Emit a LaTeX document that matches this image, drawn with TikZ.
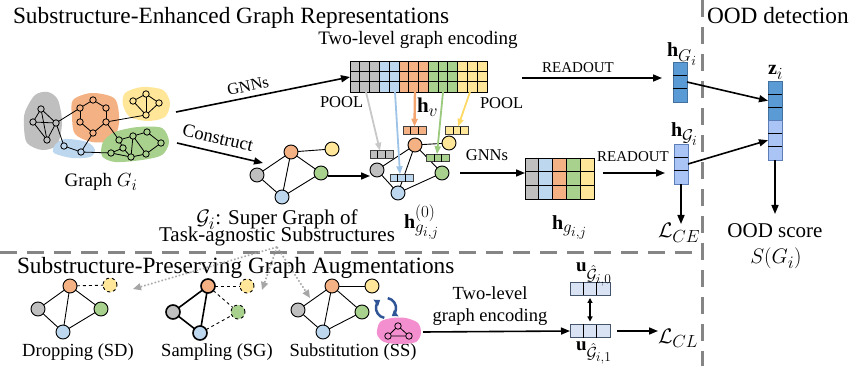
\RequirePackage{fix-cm}
\documentclass[tikz,border=0pt]{standalone}
\usepackage{amsmath}
\usepackage{fontspec}
\setmainfont{Liberation Serif}
\usetikzlibrary{arrows.meta,calc}
\DeclareMathSizes{19}{19}{16}{13.5}
\DeclareMathSizes{21}{21}{17.5}{14.5}
\DeclareMathSizes{20}{20}{17}{14}
\DeclareMathSizes{18.5}{18.5}{15.5}{13}
\DeclareMathSizes{23.3}{23.3}{18}{15}
\definecolor{cgray}{HTML}{BFBFBF}
\definecolor{cblue}{HTML}{BDD7EE}
\definecolor{corange}{HTML}{F4B183}
\definecolor{cgreen}{HTML}{A9D18E}
\definecolor{cyellow}{HTML}{FFE699}
\definecolor{dblue}{HTML}{5B9BD5}
\definecolor{dblueb}{HTML}{41719C}
\definecolor{lblue}{HTML}{A9C4F5}
\definecolor{lblueb}{HTML}{5B7DB8}
\definecolor{ublue}{HTML}{DAE3F3}
\definecolor{ubord}{HTML}{44546A}
\definecolor{sepgray}{HTML}{858585}
\definecolor{pinkc}{HTML}{F48FCF}
\definecolor{refblue}{HTML}{2F5597}
\definecolor{dotgray}{HTML}{A6A6A6}
\definecolor{agray}{HTML}{C8C8C8}
\definecolor{ablue}{HTML}{9DC3E6}
\definecolor{aorange}{HTML}{F4A46E}
\definecolor{agreen}{HTML}{9BC97E}
\definecolor{ayellow}{HTML}{FFD966}
\newcommand{\hcells}[2]{\foreach \k in {1,...,\numexpr#2-1\relax}{\draw[line width=0.8pt] ($(#1.north west)!{\k/#2}!(#1.north east)$) -- ($(#1.south west)!{\k/#2}!(#1.south east)$);}}
\newcommand{\vcells}[2]{\foreach \k in {1,...,\numexpr#2-1\relax}{\draw[line width=0.8pt] ($(#1.north west)!{\k/#2}!(#1.south west)$) -- ($(#1.north east)!{\k/#2}!(#1.south east)$);}}
\begin{document}
\begin{tikzpicture}[x=1pt,y=-1pt,
  every node/.style={inner sep=0pt,outer sep=0pt},
  tn/.style={circle,draw,line width=0.8pt,minimum size=6.4pt},
  sn/.style={circle,draw,line width=0.9pt,minimum size=14pt},
  snd/.style={sn,dashed},
  snt/.style={sn,line width=1.6pt},
  ed/.style={line width=0.9pt},
  edd/.style={line width=0.9pt,dashed},
  edt/.style={line width=1.6pt},
  arr/.style={line width=1.6pt,-{Triangle[length=9pt,width=7pt]}},
  carr/.style={line width=1.8pt,-{Triangle[length=8pt,width=6pt]}},
  darr/.style={line width=1.6pt,dotted,dotgray,-{Triangle[length=8pt,width=7pt]}},
  sep/.style={sepgray,line width=3pt,dash pattern=on 17pt off 10pt},
  vec/.style={draw=black!75,line width=0.8pt},
  t23/.style={font=\fontsize{23.3}{25}\selectfont},
  t21/.style={font=\fontsize{21}{23}\selectfont},
  t20/.style={font=\fontsize{20}{22}\selectfont},
  t19/.style={font=\fontsize{19}{21}\selectfont},
  t18/.style={font=\fontsize{18.5}{20}\selectfont},
  t16/.style={font=\fontsize{16.5}{18}\selectfont},
  t15/.style={font=\fontsize{15}{17}\selectfont}
]
\useasboundingbox (0,0) rectangle (852,366);
% separators
\coordinate (sepL) at (0,253);
\coordinate (sepC) at (702,253);
\coordinate (sepT) at (702,0);
\coordinate (sepB) at (702,366);
\draw[sep] (sepL) -- (sepC);
\draw[sep] (sepT) -- (sepB);
% titles
\node[t23,anchor=base west] (title1) at (13,24) {Substructure-Enhanced Graph Representations};
\node[t23,anchor=base west] (title2) at (17,274) {Substructure-Preserving Graph Augmentations};
\node[t23,anchor=base west] (title3) at (707,24) {OOD detection};

% ---------- Graph G_i ----------
\fill[cgray] plot[smooth cycle] coordinates {(25,112) (35,95) (48,92) (58,100) (62,123) (57,145) (42,150) (27,143) (24,127)};
\fill[corange] plot[smooth cycle] coordinates {(73,100) (92,93) (115,99) (119,123) (112,140) (92,142) (75,134) (72,117)};
\fill[cyellow] plot[smooth cycle] coordinates {(125,93) (142,87) (163,90) (170,103) (165,117) (148,121) (130,117) (123,105)};
\fill[cblue] plot[smooth cycle] coordinates {(55,145) (65,139) (87,142) (95,150) (90,157) (72,158) (54,153)};
\fill[cgreen] plot[smooth cycle] coordinates {(103,142) (115,132) (138,127) (162,128) (169,142) (162,155) (142,160) (115,162) (102,156)};
\foreach \n/\p in {ga/{(41,109)},gb/{(33,122)},gc/{(47,140)},gd/{(56,123)}} \node[tn,fill=cgray] (\n) at \p {};
\foreach \n/\p in {oa/{(93,100)},ob/{(106,108)},oc/{(106,122)},od/{(93,133)},oe/{(80,122)},of/{(80,108)}} \node[tn,fill=corange] (\n) at \p {};
\foreach \n/\p in {ya/{(133,101)},yb/{(146,94)},yc/{(159,103)},yd/{(146,115)}} \node[tn,fill=cyellow] (\n) at \p {};
\foreach \n/\p in {ba/{(64,146)},bb/{(81,152)}} \node[tn,fill=cblue] (\n) at \p {};
\foreach \n/\p in {na/{(119,140)},nb/{(133,136)},nc/{(147,132)},nd/{(161,143)},ne/{(146,154)},nf/{(131,157)},ng/{(111,153)},nh/{(123,148)}} \node[tn,fill=cgreen] (\n) at \p {};
\foreach \a/\b in {ga/gb,ga/gc,ga/gd,gb/gc,gb/gd,gc/gd,oa/ob,ob/oc,oc/od,od/oe,oe/of,of/oa,ya/yb,yb/yc,yc/yd,yb/yd,ya/yd,ba/bb,na/nb,nb/nc,nc/nd,nd/ne,ne/nf,nf/ng,ng/nh,nh/na,nh/nf,nb/ne,nb/nf,gd/of,gd/ba,bb/od,bb/ng,oc/yd,oc/na}
  \draw[line width=0.8pt] (\a) -- (\b);
\node[t19,anchor=base] (lblG) at (101,187) {Graph $G_i$};

% ---------- top: two-level encoding matrix ----------
\foreach \c/\col in {0/cgray,1/cgray,2/cgray,3/cblue,4/cblue,5/corange,6/corange,7/corange,8/cgreen,9/cgreen,10/cgreen,11/cyellow,12/cyellow,13/cyellow}
  \fill[\col] ({350+\c*9.786},61) rectangle ++(9.786,31);
\node[draw,line width=0.8pt,minimum width=137pt,minimum height=31pt] (mat1) at (418.5,76.5) {};
\hcells{mat1}{14}
\vcells{mat1}{3}
\node[t19,anchor=base] (tle) at (418,45) {Two-level graph encoding};
\node[t16,anchor=base west] (pool1) at (320,108) {POOL};
\node[t16,anchor=base west] (pool2) at (480,109) {POOL};

% GNNs and Construct arrows
\coordinate (gOut1) at (176,112);
\coordinate (gOut2) at (177,143);
\draw[arr] (gOut1) -- (mat1.west |- 0,77) coordinate (m1in);
\node[t16,rotate=12.6] (lgnn1) at (248,86) {GNNs};

% ---------- super graph 1 ----------
\node[sn,fill=corange] (s1o) at (291,152) {};
\node[sn,fill=cyellow] (s1y) at (332,149) {};
\node[sn,fill=cgray] (s1g) at (257,175) {};
\node[sn,fill=cgreen] (s1n) at (321,173) {};
\node[sn,fill=cblue] (s1b) at (282,197) {};
\foreach \a/\b in {s1o/s1y,s1o/s1g,s1o/s1b,s1o/s1n,s1g/s1b,s1b/s1n} \draw[ed] (\a) -- (\b);
\coordinate (s1in) at (263,163);
\draw[arr] (gOut2) -- (s1in);
\node[t18,rotate=-13] (lcon) at (218,138) {Construct};
\node[t21,anchor=base] (lsg1) at (277,225) {$\mathcal{G}_i$: Super Graph of};
\node[t21,anchor=base] (lsg2) at (277,242) {Task-agnostic Substructures};

% ---------- super graph 2 ----------
\node[sn,fill=corange] (s2o) at (415,145) {};
\node[sn,fill=cyellow] (s2y) at (449,143) {};
\node[sn,fill=cgray] (s2g) at (377,170) {};
\node[sn,fill=cgreen] (s2n) at (442,173) {};
\node[sn,fill=cblue] (s2b) at (398,193) {};
\foreach \a/\b in {s2o/s2y,s2o/s2g,s2o/s2b,s2o/s2n,s2g/s2b,s2b/s2n} \draw[ed] (\a) -- (\b);
\draw[arr] (s1n.east |- 0,176) -- (s2g.west |- 0,176);
% small vectors
\node[vec,fill=corange,minimum width=23pt,minimum height=7.5pt] (vo) at (414.5,130.5) {};
\node[vec,fill=cyellow,minimum width=23pt,minimum height=7.5pt] (vy) at (457,130.5) {};
\node[vec,fill=cgray,minimum width=23pt,minimum height=7.5pt] (vg) at (381.5,154.5) {};
\node[vec,fill=cgreen,minimum width=23pt,minimum height=7.5pt] (vn) at (438,158) {};
\node[vec,fill=cblue,minimum width=23pt,minimum height=7.5pt] (vb) at (401.5,178) {};
\hcells{vo}{3}\hcells{vy}{3}\hcells{vg}{3}\hcells{vn}{3}\hcells{vb}{3}
% pool arrows
\coordinate (pg) at (366,92);
\coordinate (pb) at (395,92);
\coordinate (po) at (415,92);
\coordinate (pn) at (443,92);
\coordinate (py) at (470,92);
\draw[carr,agray] (pg) -- (vg.north -| 380,0);
\draw[carr,ablue] (pb) -- (vb.north -| 400,0);
\draw[carr,aorange,line width=2.4pt] (po) -- (vo.north);
\draw[carr,agreen] (pn) -- (vn.north -| 437,0);
\draw[carr,ayellow] (py) -- (vy.north -| 458,0);
\node[t21,anchor=base west] (lhv) at (417,113) {$\mathbf{h}_v$};
\node[t20,anchor=base west] (lh0) at (404,229) {$\mathbf{h}^{(0)}_{g_{i,j}}$};

% ---------- matrix 2 ----------
\foreach \c/\col in {0/cgray,1/cblue,2/corange,3/cgreen,4/cyellow}
  \fill[\col] ({525+\c*13.8},158) rectangle ++(13.8,41);
\node[draw,line width=0.8pt,minimum width=69pt,minimum height=41pt] (mat2) at (559.5,178.5) {};
\hcells{mat2}{5}
\vcells{mat2}{3}
\coordinate (g2s) at (460,173);
\draw[arr] (g2s) -- (mat2.west |- 0,173);
\node[t16,anchor=base] (lgnn2) at (487,161) {GNNs};
\node[t20,anchor=base west] (lhg) at (552,230) {$\mathbf{h}_{g_{i,j}}$};

% ---------- readouts and vectors ----------
\node[draw=dblueb,fill=dblue,line width=0.8pt,minimum width=14pt,minimum height=40pt] (hG) at (680,82) {};
\vcells{hG}{3}
\node[draw=lblueb,fill=lblue,line width=0.8pt,minimum width=14pt,minimum height=40pt] (hS) at (681,164) {};
\vcells{hS}{3}
\coordinate (r1s) at (522,78);
\draw[arr] (r1s) -- (662,78) coordinate (r1e);
\node[t15,anchor=base] (lro1) at (578,73) {READOUT};
\draw[arr] (mat2.east |- 0,173) ++(9,0) coordinate (r2s) -- (665,173) coordinate (r2e);
\node[t15,anchor=base] (lro2) at (633,162) {READOUT};
\node[t20,anchor=base west] (lhGl) at (667,57) {$\mathbf{h}_{G_i}$};
\node[t20,anchor=base west] (lhSl) at (671,137) {$\mathbf{h}_{\mathcal{G}_i}$};
% z
\node[draw=dblueb,fill=dblue,line width=0.8pt,minimum width=14pt,minimum height=39.5pt] (zt) at (775,100.75) {};
\node[draw=lblueb,fill=lblue,line width=0.8pt,minimum width=14pt,minimum height=39.5pt] (zb) at (775,140.25) {};
\vcells{zt}{3}\vcells{zb}{3}
\node[t20,anchor=base west] (lz) at (768,75) {$\mathbf{z}_i$};
\draw[arr] (hG.east) -- (zt.west);
\draw[arr] (hS.east) -- (zb.west);
\node[t21,anchor=base] (lood) at (775,238) {OOD score};
\node[t21,anchor=base] (lS) at (776,264) {$S(G_i)$};
\draw[arr] (zb.south) -- (775,214) coordinate (zend);
\node[t21,anchor=base west] (lce) at (658,238) {$\mathcal{L}_{CE}$};
\draw[arr] (hS.south) -- (681,224) coordinate (ceend);

% ---------- bottom augmentations ----------
\coordinate (dsrc) at (277,247);
\coordinate (dSD) at (133,289);
\coordinate (dSG) at (262,290);
\coordinate (dSS) at (310,298);
\draw[darr] (dsrc) -- (dSD);
\draw[darr] (dsrc) -- (dSG);
\draw[darr] (dsrc) -- (dSS);
% SD
\node[sn,fill=corange] (ao) at (70,286) {};
\node[snd,fill=cyellow] (ay) at (110,285) {};
\node[sn,fill=cgray] (ag) at (38,309) {};
\node[sn,fill=cgreen] (an) at (101,309) {};
\node[sn,fill=cblue] (ab) at (63,332) {};
\foreach \a/\b in {ao/ag,ao/ab,ao/an,ag/ab,ab/an} \draw[ed] (\a) -- (\b);
\draw[edd] (ao) -- (ay);
\node[t18,anchor=base] (lsd) at (78,356) {Dropping (SD)};
% SG
\node[snt,fill=corange] (bo) at (208,286) {};
\node[snd,fill=cyellow] (by) at (247,286) {};
\node[snt,fill=cgray] (bg) at (173,312) {};
\node[snd,fill=cgreen] (bn) at (238,312) {};
\node[snt,fill=cblue] (bbl) at (200,333) {};
\foreach \a/\b in {bo/bg,bo/bbl,bg/bbl} \draw[edt] (\a) -- (\b);
\foreach \a/\b in {bo/by,bo/bn,bbl/bn} \draw[edd] (\a) -- (\b);
\node[t18,anchor=base] (lsgx) at (217,356) {Sampling (SG)};
% SS
\node[sn,fill=corange] (co) at (332,286) {};
\node[sn,fill=cyellow] (cy) at (372,286) {};
\node[sn,fill=cgray] (cg) at (298,310) {};
\node[sn,fill=cgreen] (cn) at (362,312) {};
\node[sn,fill=cblue] (cb) at (323,332) {};
\foreach \a/\b in {co/cy,co/cg,co/cb,co/cn,cg/cb,cb/cn} \draw[ed] (\a) -- (\b);
\node[t18,anchor=base] (lss) at (353,356) {Substitution (SS)};
% refresh icon
\coordinate (rc) at (386,308);
\draw[refblue,line width=2.5pt,-{Triangle[length=5.5pt,width=7.5pt]}] ($(rc)+(100:10)$) arc[start angle=100,end angle=235,radius=10];
\draw[refblue,line width=2.5pt,-{Triangle[length=5.5pt,width=7.5pt]}] ($(rc)+(280:10)$) arc[start angle=280,end angle=415,radius=10];
% pink blob
\fill[pinkc] plot[smooth cycle] coordinates {(380,322) (392,318) (406,318) (418,323) (421,333) (416,342) (400,344) (384,342) (377,334)};
\node[circle,draw,line width=0.8pt,minimum size=6.5pt,fill=pinkc] (pa) at (398,326) {};
\node[circle,draw,line width=0.8pt,minimum size=6.5pt,fill=pinkc] (pb2) at (388,336) {};
\node[circle,draw,line width=0.8pt,minimum size=6.5pt,fill=pinkc] (pc) at (409,336) {};
\draw[line width=0.8pt] (pa) -- (pb2) (pb2) -- (pc) (pc) -- (pa);
% encoding arrow
\coordinate (encs) at (423,332);
\node[draw=ubord,fill=ublue,line width=0.9pt,minimum width=40pt,minimum height=13pt] (u0) at (590,288.5) {};
\node[draw=ubord,fill=ublue,line width=0.9pt,minimum width=40pt,minimum height=13pt] (u1) at (590,331) {};
\hcells{u0}{3}\hcells{u1}{3}
\draw[arr] (encs) -- (u1.west);
\node[t18,anchor=base] (ltl1) at (490,300) {Two-level};
\node[t18,anchor=base] (ltl2) at (490,322) {graph encoding};
\draw[line width=1.4pt,{Triangle[length=5pt,width=5pt]}-{Triangle[length=5pt,width=5pt]}] ([yshift=-3pt]u0.south) -- ([yshift=3pt]u1.north);
\node[t19,anchor=base west] (lu0) at (576,272) {$\mathbf{u}_{\hat{\mathcal{G}}_{i,0}}$};
\node[t19,anchor=base west] (lu1) at (576,350) {$\mathbf{u}_{\hat{\mathcal{G}}_{i,1}}$};
\node[t21,anchor=base west] (lcl) at (658,343) {$\mathcal{L}_{CL}$};
\draw[arr] ([xshift=7pt]u1.east) -- (lcl.west |- u1.east);
\end{tikzpicture}
\end{document}
